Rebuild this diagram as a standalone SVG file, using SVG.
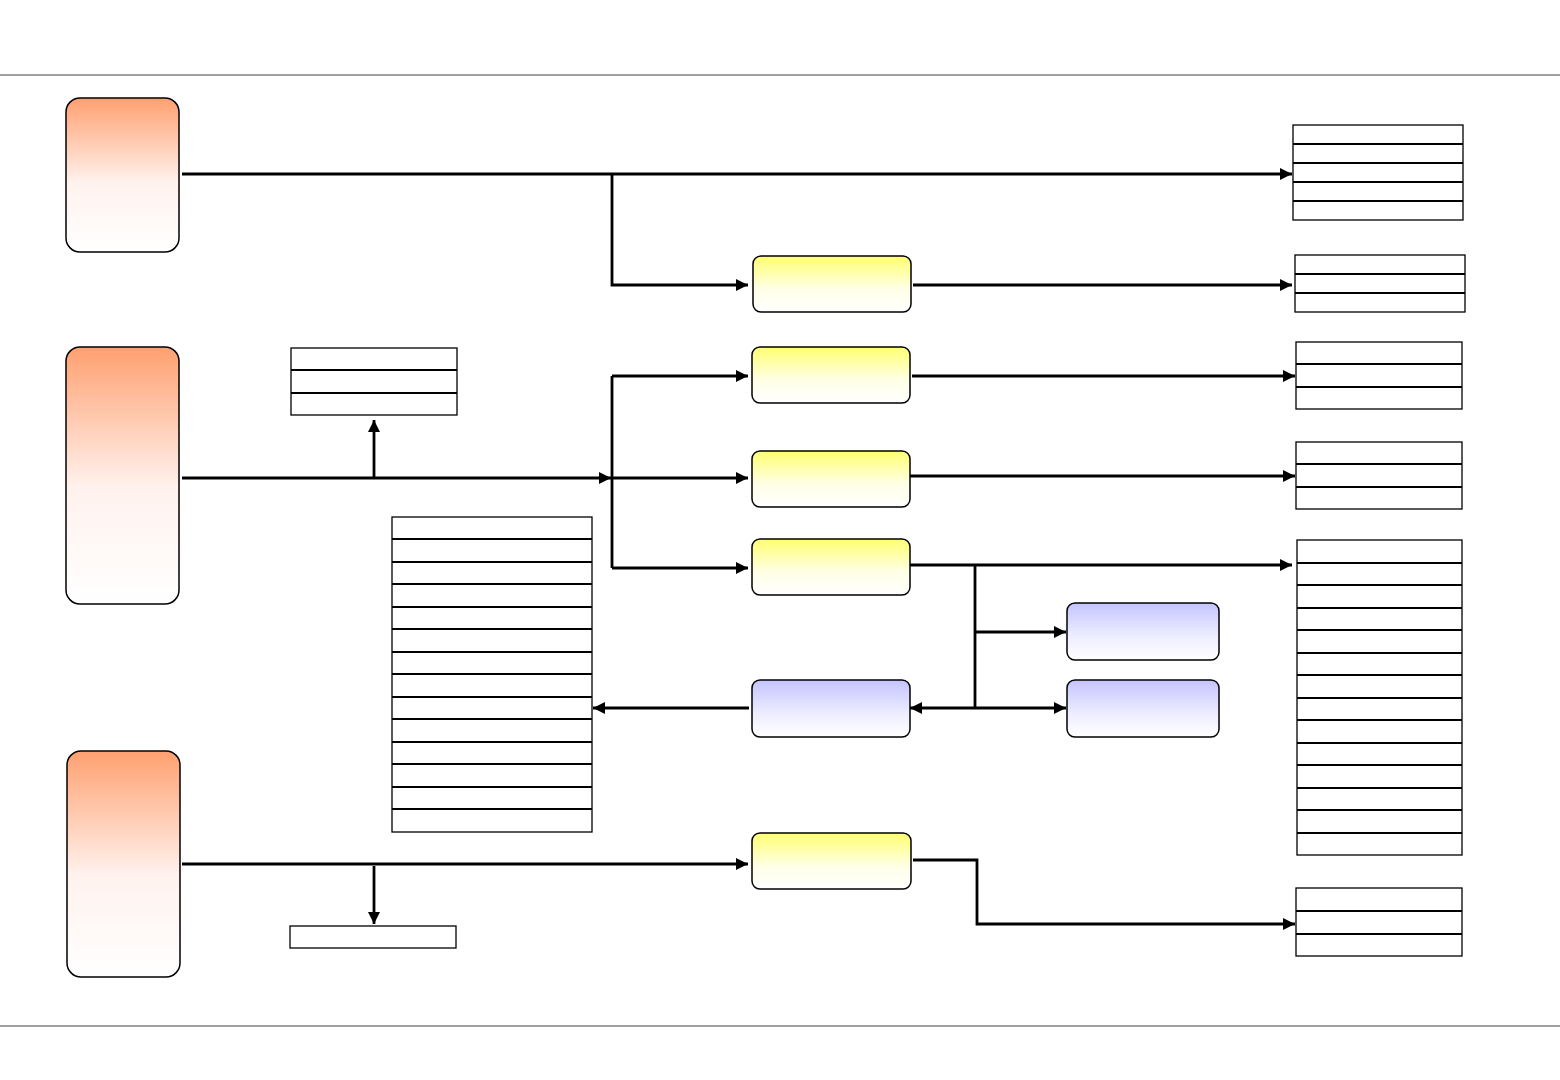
<svg xmlns="http://www.w3.org/2000/svg" width="1560" height="1080" viewBox="0 0 1560 1080">
<style>
.or{fill:url(#gO);stroke:#000;stroke-width:1.5}
.ye{fill:url(#gY);stroke:#000;stroke-width:1.5}
.bl{fill:url(#gB);stroke:#000;stroke-width:1.5}
.tb{fill:#fff;stroke:#000;stroke-width:1.3}
.dv{stroke:#000;stroke-width:2.2}
.cn{fill:none;stroke:#000;stroke-width:2.8}
.ar{marker-end:url(#ah)}
.rule{stroke:#808080;stroke-width:1.5}
</style>
<defs>
<linearGradient id="gO" x1="0" y1="0" x2="0" y2="1"><stop offset="0" stop-color="#FFA070"/><stop offset="0.55" stop-color="#FFF2EE"/><stop offset="1" stop-color="#FFFFFF"/></linearGradient>
<linearGradient id="gY" x1="0" y1="0" x2="0" y2="1"><stop offset="0" stop-color="#FFFF70"/><stop offset="0.6" stop-color="#FFFFE8"/><stop offset="1" stop-color="#FFFFFF"/></linearGradient>
<linearGradient id="gB" x1="0" y1="0" x2="0" y2="1"><stop offset="0" stop-color="#C4C4FF"/><stop offset="0.6" stop-color="#EEEEFF"/><stop offset="1" stop-color="#FFFFFF"/></linearGradient>
<marker id="ah" markerUnits="userSpaceOnUse" markerWidth="14" markerHeight="12" refX="12" refY="6" orient="auto"><path d="M0,0 L12,6 L0,12 Z" fill="#000"/></marker>
</defs>
<rect width="1560" height="1080" fill="#fff"/>
<line class="rule" x1="0" y1="75" x2="1560" y2="75"/>
<line class="rule" x1="0" y1="1026" x2="1560" y2="1026"/>

<g id="connectors">
<path class="cn ar" d="M182,174 H1292"/>
<path class="cn ar" d="M612,174 V285 H748"/>
<path class="cn ar" d="M913,285 H1292"/>
<path class="cn ar" d="M182,478 H611"/>
<path class="cn ar" d="M374,478 V420"/>
<path class="cn" d="M612,376 V568"/>
<path class="cn ar" d="M612,376 H748"/>
<path class="cn ar" d="M612,478 H748"/>
<path class="cn ar" d="M612,568 H748"/>
<path class="cn ar" d="M912,376 H1295"/>
<path class="cn ar" d="M910,476 H1295"/>
<path class="cn ar" d="M910,565 H1292"/>
<path class="cn" d="M975,565 V708"/>
<path class="cn ar" d="M975,632 H1066"/>
<path class="cn ar" d="M975,708 H1066"/>
<path class="cn ar" d="M975,708 H910"/>
<path class="cn ar" d="M749,708 H593"/>
<path class="cn ar" d="M182,864 H748"/>
<path class="cn ar" d="M374,866 V924"/>
<path class="cn ar" d="M913,860 H977 V924 H1295"/>
</g>

<g id="nodeA"><rect class="or" x="66" y="98" width="113" height="154" rx="14"/></g>
<g id="nodeB"><rect class="or" x="66" y="347" width="113" height="257" rx="14"/></g>
<g id="nodeC"><rect class="or" x="67" y="751" width="113" height="226" rx="14"/></g>

<g id="y1"><rect class="ye" x="753" y="256" width="158" height="56" rx="8"/></g>
<g id="y2"><rect class="ye" x="752" y="347" width="158" height="56" rx="8"/></g>
<g id="y3"><rect class="ye" x="752" y="451" width="158" height="56" rx="8"/></g>
<g id="y4"><rect class="ye" x="752" y="539" width="158" height="56" rx="8"/></g>
<g id="y5"><rect class="ye" x="752" y="833" width="159" height="56" rx="8"/></g>

<g id="b1"><rect class="bl" x="752" y="680" width="158" height="57" rx="8"/></g>
<g id="b2"><rect class="bl" x="1067" y="603" width="152" height="57" rx="8"/></g>
<g id="b3"><rect class="bl" x="1067" y="680" width="152" height="57" rx="8"/></g>

<g id="t1"><rect class="tb" x="1293" y="125" width="170" height="95"/>
<path class="dv" d="M1293,144H1463M1293,163H1463M1293,182H1463M1293,201H1463"/></g>
<g id="t2"><rect class="tb" x="1295" y="255" width="170" height="57"/>
<path class="dv" d="M1295,274H1465M1295,293H1465"/></g>
<g id="t3"><rect class="tb" x="1296" y="342" width="166" height="67"/>
<path class="dv" d="M1296,364H1462M1296,387H1462"/></g>
<g id="t4"><rect class="tb" x="1296" y="442" width="166" height="67"/>
<path class="dv" d="M1296,464H1462M1296,487H1462"/></g>
<g id="t5"><rect class="tb" x="1297" y="540" width="165" height="315"/>
<path class="dv" d="M1297,563H1462M1297,585H1462M1297,608H1462M1297,630H1462M1297,653H1462M1297,675H1462M1297,698H1462M1297,720H1462M1297,743H1462M1297,765H1462M1297,788H1462M1297,810H1462M1297,833H1462"/></g>
<g id="t6"><rect class="tb" x="1296" y="888" width="166" height="68"/>
<path class="dv" d="M1296,911H1462M1296,934H1462"/></g>
<g id="t7"><rect class="tb" x="291" y="348" width="166" height="67"/>
<path class="dv" d="M291,370H457M291,393H457"/></g>
<g id="t8"><rect class="tb" x="392" y="517" width="200" height="315"/>
<path class="dv" d="M392,539H592M392,562H592M392,584H592M392,607H592M392,629H592M392,652H592M392,674H592M392,697H592M392,719H592M392,742H592M392,764H592M392,787H592M392,809H592"/></g>
<g id="t9"><rect class="tb" x="290" y="926" width="166" height="22"/></g>
</svg>
